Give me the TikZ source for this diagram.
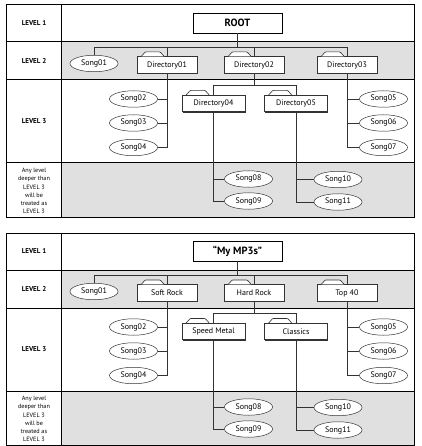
\documentclass[tikz,border=0pt]{standalone}
\usepackage{fontspec}
\setmainfont{PT Sans}
\usetikzlibrary{shapes.geometric, shadows}
\definecolor{band}{HTML}{E0E0E0}
\definecolor{wire}{HTML}{333333}

\newcommand{\foldertab}[1]{%
  \draw[wire, line width=0.6pt, fill=white, rounded corners=0.8pt]
    ([xshift=4.5pt]#1.north west) -- ++(4,-4.5) -- ++(15,0) -- ++(4,4.5);}

\newcommand{\mpanel}[8]{%
  \begin{scope}[shift={(0,#2)}]
    \fill[band] (61,42) rectangle (414,80);
    \fill[band] (61,163) rectangle (414,217);
    \draw[panelline] (6.5,5) rectangle (414,217);
    \draw[panelline] (61,5) -- (61,217);
    \draw[panelline] (6.5,42) -- (414,42) (6.5,80) -- (414,80) (6.5,163) -- (414,163);

    \node (#1l1) at (34,23.5) [lvl] {LEVEL 1};
    \node (#1l2) at (34,61)   [lvl] {LEVEL 2};
    \node (#1l3) at (34,121.5) [lvl] {LEVEL 3};
    \node (#1l4) at (34,191)  [deepnote] {Any level\\deeper than\\LEVEL 3\\will be\\treated as\\LEVEL 3};

    \node (#1root) at (237.5,23) [rootbox] {#3};
    \node (#1s01) at ( 94,63.5) [song] {Song01};
    \node (#1d01) at (167,65)   [dir] {#4};
    \node (#1d02) at (254,65)   [dir] {#5};
    \node (#1d03) at (347,65)   [dir] {#6};
    \node (#1d04) at (213.5,103.5) [dir, minimum width=63pt] {#7};
    \node (#1d05) at (296,103.5)   [dir, minimum width=63pt] {#8};
    \node (#1s02) at (133.5,99)  [song] {Song02};
    \node (#1s03) at (133.5,123) [song] {Song03};
    \node (#1s04) at (133.5,147.5) [song] {Song04};
    \node (#1s05) at (383.5,99)  [song] {Song05};
    \node (#1s06) at (383.5,123) [song] {Song06};
    \node (#1s07) at (383.5,147.5) [song] {Song07};
    \node (#1s08) at (248.5,179) [song] {Song08};
    \node (#1s09) at (248.5,201) [song] {Song09};
    \node (#1s10) at (338,179.5) [song] {Song10};
    \node (#1s11) at (338,202)   [song] {Song11};

    \coordinate (#1j1) at (237.5,47);
    \coordinate (#1j2) at (254,85);

    \draw[link] (#1root) -- (#1j1);
    \draw[link] (#1s01.north) -- (#1s01.north |- #1j1) -- (#1d03.north |- #1j1) -- (#1d03.north);
    \draw[link] (#1d01.north |- #1j1) -- (#1d01.north);
    \draw[link] (#1d02.north |- #1j1) -- (#1d02.north);

    \draw[link] (#1d01.south) |- (#1s04.east);
    \draw[link] (#1d01.south |- #1s02.east) -- (#1s02.east);
    \draw[link] (#1d01.south |- #1s03.east) -- (#1s03.east);

    \draw[link] (#1d02) -- (#1j2);
    \draw[link] (#1d04.north) -- (#1d04.north |- #1j2) -- (#1d05.north |- #1j2) -- (#1d05.north);

    \draw[link] (#1d03.south) |- (#1s07.west);
    \draw[link] (#1d03.south |- #1s05.west) -- (#1s05.west);
    \draw[link] (#1d03.south |- #1s06.west) -- (#1s06.west);

    \draw[link] (#1d04.south) |- (#1s09.west);
    \draw[link] (#1d04.south |- #1s08.west) -- (#1s08.west);

    \draw[link] (#1d05.south) |- (#1s11.west);
    \draw[link] (#1d05.south |- #1s10.west) -- (#1s10.west);

    \foldertab{#1d01} \foldertab{#1d02} \foldertab{#1d03}
    \foldertab{#1d04} \foldertab{#1d05}
  \end{scope}}

\begin{document}
\begin{tikzpicture}[x=1pt, y=-1pt]
  \tikzstyle{panelline} = [line width=1pt, black]
  \tikzstyle{lvl} = [font=\fontsize{7}{8}\selectfont\bfseries]
  \tikzstyle{deepnote} = [align=center, inner sep=0pt, font=\fontsize{6.2}{8.2}\selectfont]
  \tikzstyle{rootbox} = [draw, line width=0.9pt, fill=white, minimum width=89pt, minimum height=20pt,
    inner sep=0pt, font=\fontsize{10.5}{12}\selectfont\bfseries,
    general shadow={fill=black, shadow xshift=0.7pt, shadow yshift=-0.7pt}]
  \tikzstyle{dir} = [draw=wire, line width=0.6pt, fill=white, minimum width=60pt, minimum height=16.5pt,
    inner sep=0pt, font=\fontsize{8}{9}\selectfont,
    general shadow={fill=wire, shadow xshift=0.8pt, shadow yshift=-0.8pt}]
  \tikzstyle{song} = [ellipse, draw=wire, line width=0.5pt, fill=white, minimum width=48pt,
    minimum height=16.5pt, inner sep=0pt, font=\fontsize{8}{9}\selectfont]
  \tikzstyle{link} = [wire, line width=0.8pt]

  \useasboundingbox (0,0) rectangle (421,446);

  \mpanel{a}{0}{ROOT}{Directory01}{Directory02}{Directory03}{Directory04}{Directory05}
  \mpanel{b}{228}{``My MP3s''}{Soft Rock}{Hard Rock}{Top 40}{Speed Metal}{Classics}
\end{tikzpicture}
\end{document}
